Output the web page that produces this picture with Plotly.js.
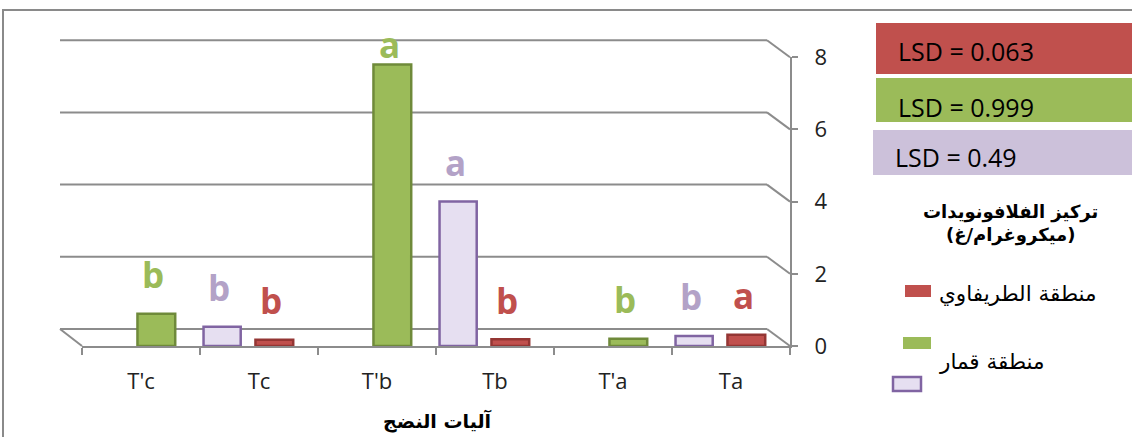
<!DOCTYPE html>
<html>
<head>
<meta charset="utf-8">
<script src="https://cdn.plot.ly/plotly-3.0.1.min.js"></script>
<style>html,body{margin:0;padding:0;background:#fff;}#chart{width:1132px;height:437px;}</style>
</head>
<body>
<div id="chart"></div>
<script>
// ---- data ----
const categories = ["T'c", "Tc", "T'b", "Tb", "T'a", "Ta"];
const redValues = [null, 0.17, null, 0.19, null, 0.31];
const greenValues = [0.89, null, 7.8, null, 0.2, null];
const lavenderValues = [null, 0.53, null, 4.0, null, 0.28];
const redLetters = [null, "b", null, "b", null, "a"];
const greenLetters = ["b", null, "a", null, "b", null];
const lavenderLetters = [null, "b", null, "a", null, "b"];
const seriesNames = ["منطقة الطريفاوي", "منطقة قمار", ""];
const lsdLabels = ["LSD = 0.063", "LSD = 0.999", "LSD = 0.49"];
const yTickValues = [0, 2, 4, 6, 8];
const yTickLabels = ["0", "2", "4", "6", "8"];
const legendTitle = "تركيز الفلافونويدات<br>(ميكروغرام/غ)";
const xTitle = "آليات النضج";

// ---- geometry helpers (pixel layout of the page) ----
const W = 1132, H = 437;
const px = x => x / W;
const py = y => (H - y) / H;

const colors = {
  red:   {fill: "#c0504d", line: "#943634", text: "#c0504d"},
  green: {fill: "#9bbb59", line: "#6f8a3a", text: "#9bbb59"},
  lav:   {fill: "#e6dff1", line: "#8064a2", text: "#b3a2c7"}
};
const catPx = (790 - 82) / categories.length; // pixel width of one category slot

const seriesDefs = [
  {name: seriesNames[0], vals: redValues, letters: redLetters, c: colors.red, offset: -0.03, width: 0.32},
  {name: seriesNames[1], vals: greenValues, letters: greenLetters, c: colors.green, offset: -0.03, width: 0.32},
  {name: seriesNames[2], vals: lavenderValues, letters: lavenderLetters, c: colors.lav, offset: -0.47, width: 0.315}
];

const traces = seriesDefs.map(s => ({
  type: "bar",
  x: categories,
  y: s.vals,
  name: s.name,
  offset: s.offset,
  width: s.width,
  marker: {color: s.c.fill, line: {color: s.c.line, width: 2.5}},
  hoverinfo: "skip",
  showlegend: false,
  xaxis: "x", yaxis: "y"
}));

const annotations = [];
// significance letters above bars
const letterCap = 7.28;
seriesDefs.forEach(s => {
  categories.forEach((cat, i) => {
    if (s.vals[i] == null || !s.letters[i]) return;
    annotations.push({
      x: cat, y: Math.min(s.vals[i], letterCap), xref: "x", yref: "y",
      text: s.letters[i], showarrow: false,
      xshift: (s.offset + s.width / 2) * catPx - 3, yshift: 39,
      yanchor: "middle",
      font: {family: "Open Sans", size: 35, weight: "bold", color: s.c.text}
    });
  });
});

// LSD boxes
const shapes = [];
const lsdBoxes = [[876, 23, 74, 51], [876, 78, 122, 107], [873, 130, 175, 157]];
const lsdFill = [colors.red.fill, colors.green.fill, "#ccc1da"];
lsdLabels.forEach((t, i) => {
  const b = lsdBoxes[i];
  shapes.push({type: "rect", xref: "paper", yref: "paper", x0: px(b[0]), x1: px(1140), y0: py(b[2]), y1: py(b[1]),
    fillcolor: lsdFill[i], line: {width: 0}, layer: "below"});
  annotations.push({xref: "paper", yref: "paper", x: px(b[0] + 20), y: py(b[3]), xanchor: "left", yanchor: "middle",
    text: t, showarrow: false, font: {family: "Open Sans", size: 25, color: "#000"}});
});

// legend
annotations.push({xref: "paper", yref: "paper", x: px(1010), y: py(223), xanchor: "center", yanchor: "middle",
  text: legendTitle, showarrow: false, align: "center",
  font: {family: "DejaVu Sans", size: 18, weight: "bold", color: "#000"}});
const legendSw = [[905, 931, 285, 297], [903, 931, 337, 349], [893, 921, 377, 391]];
const legendTextY = [293, 361, 384];
const legendLine = [null, null, colors.lav.line];
seriesDefs.forEach((s, i) => {
  const b = legendSw[i];
  shapes.push({type: "rect", xref: "paper", yref: "paper", x0: px(b[0]), x1: px(b[1]), y0: py(b[3]), y1: py(b[2]),
    fillcolor: s.c.fill, line: legendLine[i] ? {color: legendLine[i], width: 2.5} : {width: 0}});
  if (s.name) annotations.push({xref: "paper", yref: "paper", x: px(937), y: py(legendTextY[i]), xanchor: "left", yanchor: "middle",
    text: s.name, showarrow: false, font: {family: "DejaVu Sans", size: 21.5, color: "#000"}});
});

// x-axis title
annotations.push({xref: "paper", yref: "paper", x: px(438), y: py(421), xanchor: "center", yanchor: "middle",
  text: xTitle, showarrow: false, font: {family: "DejaVu Sans", size: 19, weight: "bold", color: "#000"}});

// 3-D back wall grid lines and their connectors to the front value axis
const gridColor = "#8c8c8c";
const backY0 = 329, frontY0 = 346, unitPx = 36.1;
yTickValues.forEach(v => {
  shapes.push({type: "line", xref: "paper", yref: "paper", layer: "below",
    x0: px(60), y0: py(backY0 - v * unitPx), x1: px(767), y1: py(backY0 - v * unitPx),
    line: {color: gridColor, width: 2}});
  shapes.push({type: "line", xref: "paper", yref: "paper", layer: "below",
    x0: px(767), y0: py(backY0 - v * unitPx), x1: px(790), y1: py(frontY0 - v * unitPx),
    line: {color: gridColor, width: 2}});
});
shapes.push({type: "line", xref: "paper", yref: "paper", layer: "below", x0: px(60), y0: py(backY0), x1: px(82), y1: py(frontY0),
  line: {color: gridColor, width: 2}});
// outer chart border
shapes.push({type: "rect", xref: "paper", yref: "paper", x0: px(3), x1: px(1200), y0: py(500), y1: py(10),
  line: {color: "#8a8a8a", width: 2}, fillcolor: "rgba(0,0,0,0)", layer: "below"});

const layout = {
  width: W, height: H,
  margin: {l: 0, r: 0, t: 0, b: 0},
  paper_bgcolor: "#fff", plot_bgcolor: "rgba(0,0,0,0)",
  barmode: "overlay",
  showlegend: false,
  xaxis: {
    domain: [px(82), px(790)], anchor: "y", type: "category", range: [-0.5, 5.5],
    showline: true, linecolor: gridColor, linewidth: 2,
    ticks: "outside", tickson: "boundaries", ticklen: 7, tickwidth: 2, tickcolor: gridColor,
    tickfont: {family: "Open Sans", size: 22, color: "#222"}, ticklabelstandoff: 15,
    showgrid: false, zeroline: false, fixedrange: true
  },
  yaxis: {
    domain: [py(frontY0), py(frontY0 - 8 * unitPx)], anchor: "x", side: "right", range: [0, 8],
    tickvals: yTickValues, ticktext: yTickLabels,
    showline: true, linecolor: gridColor, linewidth: 2,
    ticks: "outside", ticklen: 6, tickwidth: 2, tickcolor: gridColor,
    tickfont: {family: "Open Sans", size: 22, color: "#222"}, ticklabelstandoff: 12,
    showgrid: false, zeroline: false, fixedrange: true
  },
  annotations: annotations,
  shapes: shapes
};

Plotly.newPlot("chart", traces, layout, {displayModeBar: false, staticPlot: true});
</script>
</body>
</html>
